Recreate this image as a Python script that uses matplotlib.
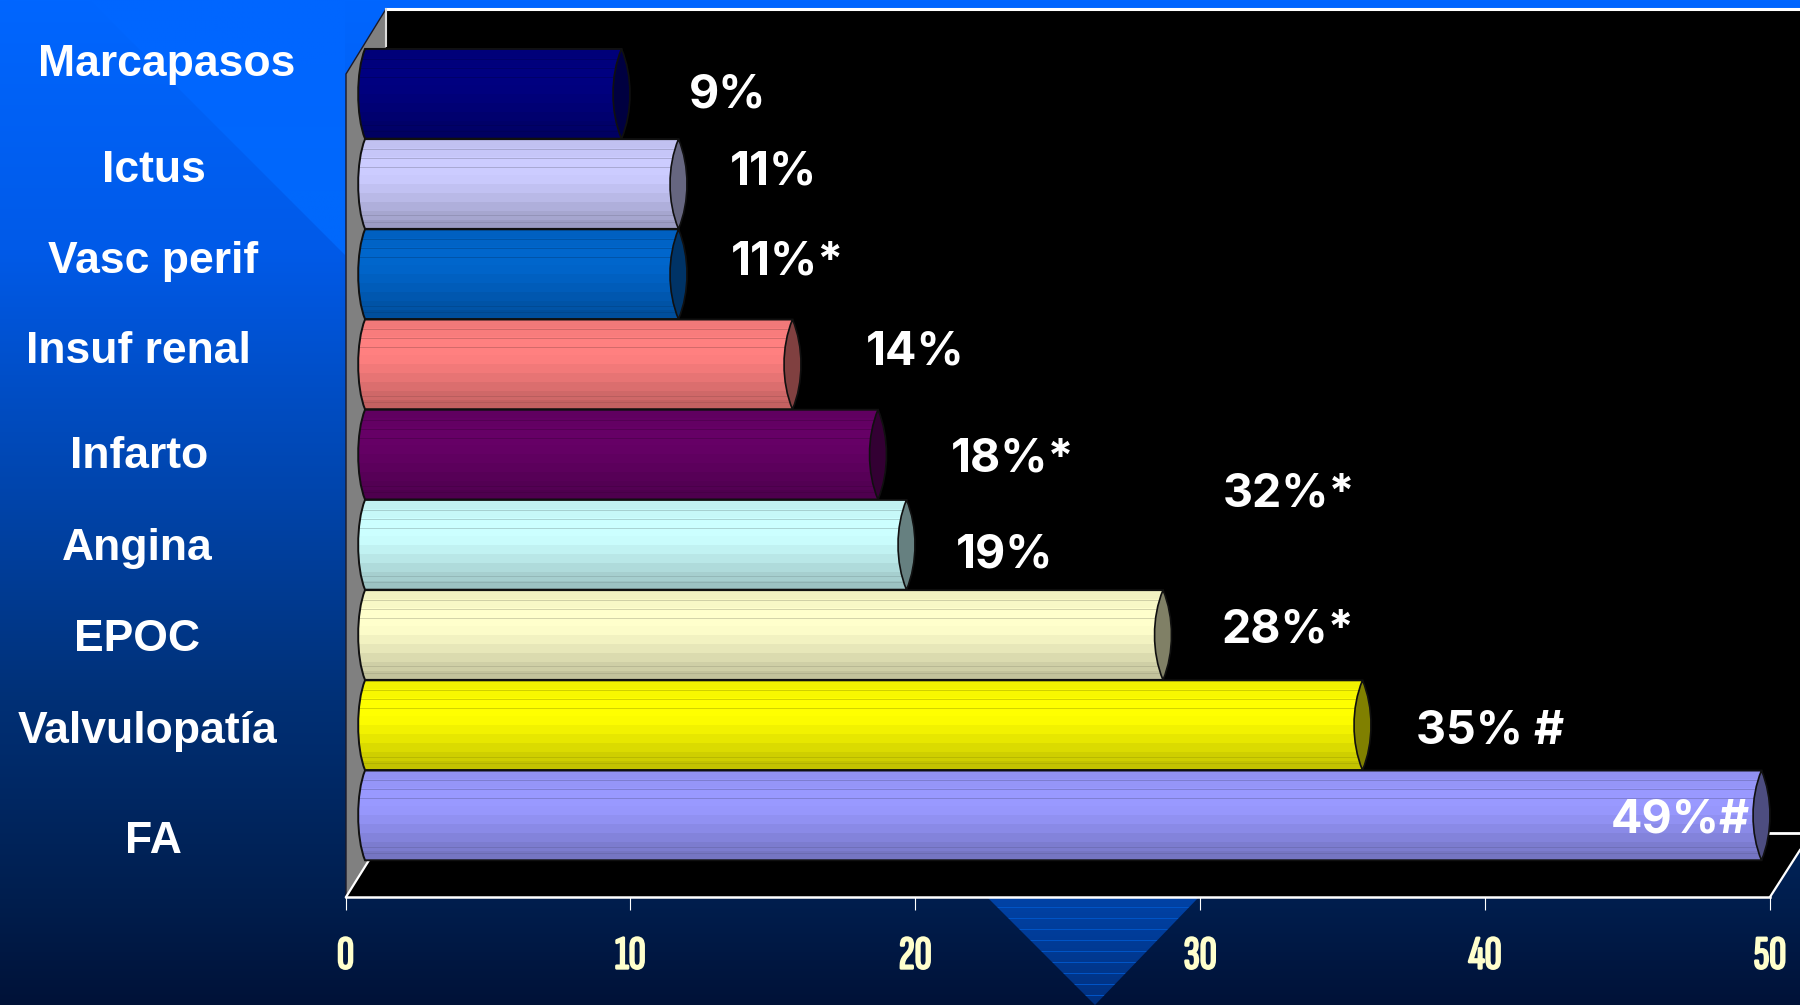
import numpy as np
import matplotlib
matplotlib.use("Agg")
import matplotlib.pyplot as plt
import matplotlib.patheffects as pe
from matplotlib.patches import Polygon, PathPatch
from matplotlib.path import Path

# ---------- data ----------
categories = ["Marcapasos", "Ictus", "Vasc perif", "Insuf renal", "Infarto",
              "Angina", "EPOC", "Valvulopatía", "FA"]
bar_values = [9, 11, 11, 15, 18, 19, 28, 35, 49]
value_labels = ["9%", "11%", "11%*", "14%", "18%*", "32%*", "19%", "28%*", "35% #", "49%#"]
x_ticks = [0, 10, 20, 30, 40, 50]

# ---------- style and layout (pixels of the 1800x1005 picture) ----------
bar_colors = ["#000080", "#CCCCFF", "#0066CC", "#FF8080", "#660066",
              "#CCFFFF", "#FFFFCC", "#FFFF00", "#9999FF"]
cat_xy = [(167, 76), (154, 182), (153, 273), (138, 363), (139, 468),
          (137, 560), (137, 651), (148, 743), (153, 853)]
val_xy = [(689, 107), (730, 184), (731, 274), (866, 364), (951, 471),
          (1223, 506), (956, 567), (1222, 642), (1416, 743), (1611, 832)]

W, H = 1800, 1005
fig = plt.figure(figsize=(W / 100, H / 100), dpi=100)


def axes_px(x0, y0, x1, y1, **kw):
    return fig.add_axes([x0 / W, 1 - y1 / H, (x1 - x0) / W, (y1 - y0) / H], **kw)


# ---------- background and 3D walls ----------
bg = axes_px(0, 0, W, H)
bg.set_axis_off()
stops_y = np.array([0, 250, 500, 700, 900, 1005]) / 1005
stops = np.array([[0, 102, 255], [0, 90, 232], [0, 68, 170], [0, 48, 118],
                  [0, 30, 78], [0, 18, 56]]) / 255
t = np.linspace(0, 1, 503)
grad = np.stack([np.interp(t, stops_y, stops[:, c]) for c in range(3)], axis=1)[:, None, :]
bg.imshow(grad, extent=(0, W, H, 0), aspect="auto", zorder=0, interpolation="bilinear")

tri_path = Polygon([(90, 0), (345, 255), (345, 0)], closed=True, fc="none", ec="none",
                   transform=bg.transData)
bg.add_patch(tri_path)
im = bg.imshow(np.array([[[0, 102, 255]], [[0, 104, 252]]], dtype=float) / 255,
               extent=(90, 345, 255, 0), aspect="auto", zorder=0.5, interpolation="bilinear")
im.set_clip_path(tri_path)

# decorative triangle under the axis
tri2 = Polygon([(988, 898), (1198, 898), (1095, 1005)], closed=True, fc="none", ec="none")
bg.add_patch(tri2)
rows = np.linspace(0, 1, 107)
tri_img = np.stack([0 * rows, 0.26 - 0.07 * rows, 0.65 - 0.15 * rows], axis=1)[:, None, :]
tri_img[9::11] = np.array([0.0, 0.33, 0.78])[None, None, :]
im2 = bg.imshow(tri_img, extent=(988, 1198, 1005, 898), aspect="auto", zorder=1,
                interpolation="nearest")
im2.set_clip_path(tri2)

bg.add_patch(Polygon([(386, 9), (W, 9), (W, 850), (1770, 897), (346, 897), (386, 833)],
                     closed=True, fc="black", ec="none", zorder=2))
bg.add_patch(Polygon([(346, 74), (386, 9), (386, 833), (346, 897)], closed=True,
                     fc="#808080", ec="none", zorder=2))
bg.plot([346, 346, 386], [897, 74, 9], color="#1a1a2a", lw=1, zorder=3)
bg.plot([386, W], [9, 9], color="white", lw=2.2, zorder=3)
bg.plot([386, 386], [9, 46], color="#dddddd", lw=1.5, zorder=3)
bg.plot([346, 386], [897, 833], color="white", lw=1.6, zorder=3)
bg.plot([1770, W], [897, 850], color="white", lw=1.6, zorder=3)
bg.plot([1765, W], [833, 833], color="white", lw=2, zorder=3)
bg.set_xlim(0, W)
bg.set_ylim(H, 0)

for name, (x, y) in zip(categories, cat_xy):
    bg.text(x, y, name, color="white", fontsize=32, fontweight="bold",
            family=["Liberation Sans", "DejaVu Sans"], ha="center", va="baseline", zorder=6)

# ---------- value axis ----------
ax = axes_px(345.5, 9, 1770, 897)
ax.patch.set_alpha(0)
ax.set_xlim(0, 50)
ax.set_ylim(0, 1)
ax.set_yticks([])
for s in ("top", "left", "right"):
    ax.spines[s].set_visible(False)
ax.spines["bottom"].set_color("white")
ax.spines["bottom"].set_linewidth(1.8)
ax.set_xticks(x_ticks)
ax.set_xticklabels([str(v) for v in x_ticks], color="#FFFFCC", fontsize=34, fontweight="bold",
                   family=["Sofia Sans Extra Condensed", "Saira ExtraCondensed", "Liberation Sans"])
for lab in ax.get_xticklabels():
    lab.set_path_effects([pe.withStroke(linewidth=1.6, foreground="#FFFFCC")])
ax.tick_params(axis="x", length=9.5, width=0.8, color="white", pad=19)

# ---------- cylinders: same value scale, moved back by the chart's depth ----------
px_x = 50 / 1425  # data units per pixel
bars = axes_px(320, 0, 1790, H)
bars.patch.set_alpha(0)
bars.set_axis_off()
PITCH, FIRST = 90.2, 93.8
ylim = ((H - FIRST) / PITCH, -FIRST / PITCH)
xlim = (-45 * px_x, 50)
ypos = np.arange(len(categories))
HEIGHT = 0.995

shade_y = np.array([0, 0.12, 0.2, 0.42, 0.6, 0.8, 1.0])
shade_v = np.array([0.94, 0.96, 1.0, 1.0, 0.93, 0.84, 0.74])

rects = bars.barh(ypos, bar_values, height=HEIGHT, color=bar_colors, edgecolor="none", zorder=1)
for i, (rect, v, col) in enumerate(zip(rects, bar_values, bar_colors)):
    rgb = np.array(matplotlib.colors.to_rgb(col))
    top, bot = i - HEIGHT / 2, i + HEIGHT / 2
    b = 7 * px_x
    verts = [(0, top), (-b * 1.3, top + 0.25), (-b * 1.3, bot - 0.25), (0, bot),
             (v, bot), (v, top), (0, top)]
    codes = [Path.MOVETO, Path.CURVE4, Path.CURVE4, Path.CURVE4,
             Path.LINETO, Path.LINETO, Path.CLOSEPOLY]
    body = PathPatch(Path(verts, codes), fc=col, ec="none", zorder=2 + i * 3)
    bars.add_patch(body)
    n = 10
    levels = (np.arange(n) + 0.5) / n
    img = np.outer(np.interp(levels, shade_y, shade_v), rgb)[:, None, :]
    im3 = bars.imshow(img, extent=(-b * 1.3, v, bot, top), aspect="auto",
                      interpolation="nearest", zorder=2.1 + i * 3)
    im3.set_clip_path(body)
    for f in (0.11, 0.21, 0.31, 0.85, 0.92):
        yy = top + f * HEIGHT
        bars.plot([-0.2, v], [yy, yy], color=rgb * 0.62, lw=0.7, alpha=0.45,
                  zorder=2.2 + i * 3, solid_capstyle="butt")[0].set_clip_path(body)
    bars.add_patch(PathPatch(Path(verts, codes), fc="none", ec="#101010", lw=1.4,
                             zorder=2.3 + i * 3))
    c = 11.3 * px_x
    cap = Path([(v, top), (v - c, top + 0.3), (v - c, bot - 0.3), (v, bot),
                (v + c, bot - 0.3), (v + c, top + 0.3), (v, top)],
               [Path.MOVETO, Path.CURVE4, Path.CURVE4, Path.CURVE4,
                Path.CURVE4, Path.CURVE4, Path.CURVE4])
    bars.add_patch(PathPatch(cap, fc=rgb * 0.5, ec="#101010", lw=1.2, zorder=2.4 + i * 3))
bars.set_xlim(*xlim)
bars.set_ylim(*ylim)

# ---------- value labels on top of everything ----------
top_ax = axes_px(0, 0, W, H)
top_ax.patch.set_alpha(0)
top_ax.set_axis_off()
top_ax.set_xlim(0, W)
top_ax.set_ylim(H, 0)
for txt, (x, y) in zip(value_labels, val_xy):
    top_ax.text(x, y, txt, color="white", fontsize=33.5, fontweight=700,
                family=["Inter", "DejaVu Sans"], ha="left", va="baseline")

fig.savefig("out.png", dpi=100)
